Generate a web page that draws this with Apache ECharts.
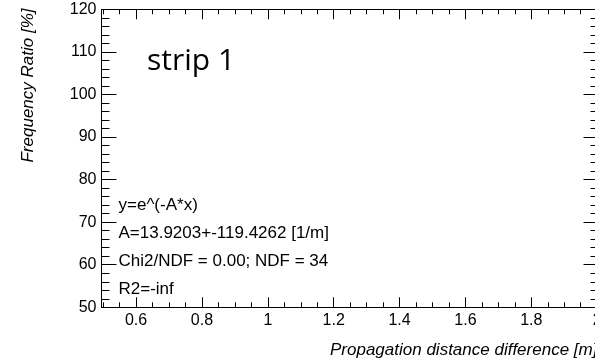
<!DOCTYPE html>
<html>
<head>
<meta charset="utf-8">
<script src="https://cdn.jsdelivr.net/npm/echarts@6/dist/echarts.min.js"></script>
<style>
  html, body { margin: 0; padding: 0; background: #fff; }
  #chart { width: 595px; height: 361px; }
</style>
</head>
<body>
<div id="chart"></div>
<script>
// Axis windows and tick steps
const xRange = [0.495, 2.004];
const xMajorStep = 0.2;
const yRange = [50, 120];
const yMajorStep = 10;

// Measured points for this strip (none fall inside the plotted window)
const distance = [];
const ratio = [];

// Fit summary printed on the pad
const fitLines = [
  'y=e^(-A*x)',
  'A=13.9203+-119.4262 [1/m]',
  'Chi2/NDF = 0.00; NDF = 34',
  'R2=-inf'
];
const stripLabel = 'strip 1';
const xTitle = 'Propagation distance difference [m]';
const yTitle = 'Frequency Ratio [%]';

const FONT = '"Liberation Sans", Arial, Helvetica, sans-serif';
const INK = '#000';

const chart = echarts.init(document.getElementById('chart'));

function xAxisDef(pos, showLabels) {
  return {
    gridIndex: 0, type: 'value', position: pos,
    min: xRange[0], max: xRange[1],
    minInterval: xMajorStep, maxInterval: xMajorStep,
    axisLine: { show: true, onZero: false, lineStyle: { color: INK } },
    axisTick: { show: true, inside: true, length: 10, lineStyle: { color: INK } },
    minorTick: { show: true, splitNumber: 4, length: 5, lineStyle: { color: INK } },
    splitLine: { show: false },
    axisLabel: {
      show: showLabels, margin: 5, color: INK, fontFamily: FONT, fontSize: 16,
      showMinLabel: false, showMaxLabel: false
    }
  };
}

function yAxisDef(pos, showLabels) {
  return {
    gridIndex: 0, type: 'value', position: pos,
    min: yRange[0], max: yRange[1], interval: yMajorStep,
    axisLine: { show: true, onZero: false, lineStyle: { color: INK } },
    axisTick: { show: true, inside: true, length: 15, lineStyle: { color: INK } },
    minorTick: { show: true, splitNumber: 5, length: 8, lineStyle: { color: INK } },
    splitLine: { show: false },
    axisLabel: { show: showLabels, margin: 5, color: INK, fontFamily: FONT, fontSize: 16 }
  };
}

const fitGraphics = fitLines.map((t, i) => ({
  type: 'text',
  x: 118.5,
  y: 205 + i * 28.2,
  style: { text: t, font: '17px ' + FONT, fill: INK, align: 'left', verticalAlign: 'middle' }
}));

chart.setOption({
  animation: false,
  grid: [{ left: 101.5, top: 9.3, width: 497, height: 298, outerBoundsMode: 'none', containLabel: false }],
  xAxis: [xAxisDef('bottom', true), xAxisDef('top', false)],
  yAxis: [yAxisDef('left', true), yAxisDef('right', false)],
  series: [{
    type: 'scatter', name: 'data',
    xAxisIndex: 0, yAxisIndex: 0,
    data: distance.map((d, i) => [d, ratio[i]])
  }],
  graphic: [
    {
      type: 'text', x: 28.5, y: 8.5, rotation: Math.PI / 2,
      style: { text: yTitle, font: 'italic 17px ' + FONT, fill: INK, align: 'right', verticalAlign: 'middle' }
    },
    {
      type: 'text', x: 330, y: 350,
      style: { text: xTitle, font: 'italic 17px ' + FONT, fill: INK, align: 'left', verticalAlign: 'middle' }
    },
    {
      type: 'text', x: 147, y: 61,
      style: { text: stripLabel, font: '30px "Open Sans", sans-serif', fill: INK, align: 'left', verticalAlign: 'middle' }
    }
  ].concat(fitGraphics)
});
</script>
</body>
</html>
